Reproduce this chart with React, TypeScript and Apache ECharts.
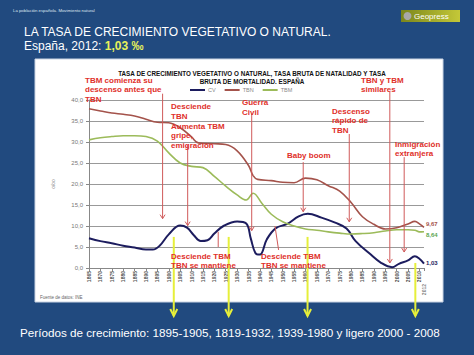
import React, { useEffect, useRef } from 'react';
import * as echarts from 'echarts';

// Tasa bruta de natalidad (TBN)
const tbnYears = [1865, 1870, 1875, 1880, 1885, 1890, 1895, 1900, 1905, 1910, 1913, 1920, 1925, 1930, 1935, 1937, 1939, 1945, 1950, 1955, 1960, 1965, 1970, 1975, 1980, 1985, 1990, 1995, 2000, 2005, 2008, 2010, 2012];
const tbnValues = [37.9, 37.4, 36.9, 36.6, 36.2, 35.4, 34.7, 34.6, 33.4, 31.2, 29.8, 29.6, 29.4, 27.9, 24.4, 22.0, 21.1, 20.8, 20.4, 20.3, 21.4, 21.0, 19.6, 18.3, 15.6, 12.2, 10.4, 9.3, 9.6, 10.5, 11.1, 10.5, 9.67];

// Tasa bruta de mortalidad (TBM)
const tbmYears = [1865, 1870, 1875, 1880, 1885, 1890, 1895, 1900, 1905, 1910, 1915, 1920, 1925, 1930, 1934, 1937, 1941, 1945, 1950, 1955, 1960, 1965, 1970, 1975, 1980, 1985, 1990, 1995, 2000, 2005, 2008, 2010, 2012];
const tbmValues = [30.5, 31.0, 31.3, 31.5, 31.5, 31.3, 30.2, 27.4, 25.0, 24.2, 23.9, 21.8, 19.5, 17.4, 16.2, 17.8, 15.3, 12.8, 11.0, 10.0, 9.3, 9.0, 8.6, 8.3, 8.1, 8.2, 8.4, 8.8, 9.1, 9.1, 9.0, 8.6, 8.64];

// Crecimiento vegetativo (CV)
const cvYears = [1865, 1870, 1875, 1880, 1885, 1890, 1893, 1896, 1900, 1905, 1908, 1911, 1914, 1917, 1920, 1924, 1930, 1934, 1936, 1938, 1940, 1943, 1947, 1952, 1957, 1961, 1967, 1973, 1978, 1982, 1988, 1993, 1998, 2001, 2005, 2008, 2010, 2012];
const cvValues = [7.1, 6.4, 5.9, 5.3, 4.9, 4.4, 4.4, 5.3, 8.0, 10.1, 9.6, 7.8, 6.4, 6.6, 8.2, 10.0, 11.1, 10.6, 7.0, 3.6, 3.2, 6.8, 9.5, 10.5, 12.3, 12.9, 12.0, 10.8, 9.4, 6.4, 3.5, 1.3, 0.2, 1.0, 1.8, 2.8, 2.2, 1.03];

const endLabels = ['1,03', '9,67', '8,64'];

// Annotations: red arrows [year, topValue, tipValue, chevron]
const redArrows: [number, number, number, boolean][] = [
  [1897.3, 41.5, 11.75, true],
  [1908.3, 29.3, 10.1, true],
  [1936.4, 36.7, 8.9, true],
  [1959.0, 25.2, 13.4, true],
  [1979.2, 31.9, 11.0, true],
  [1997.0, 42.0, 1.2, true],
  [2003.3, 26.4, 3.8, true],
];
// yellow growth-period markers [year, topValue]
const yellowMarks: [number, number][] = [
  [1902.2, 7.4],
  [1926.3, 7.4],
  [1960.9, 7.4],
  [2008.2, 1.2],
];

const FONT = 'Liberation Sans, Arial, sans-serif';
const RED_TXT = '#e0302a';
const RED_LN = '#d05a5a';
const YEL = '#e6ef3a';

function toPts(ys: number[], vs: number[]) {
  return ys.map((y, i) => [y, vs[i]]);
}

export default function App() {
  const ref = useRef<HTMLDivElement>(null);
  useEffect(() => {
    document.body.style.margin = '0';
    const chart = echarts.init(ref.current!, null, { renderer: 'svg' });
    const option: any = {
      animation: false,
      backgroundColor: '#214a7f',
      textStyle: { fontFamily: FONT },
      grid: { left: 89, right: 50, top: 100, bottom: 87 },
      legend: {
        left: 190,
        top: 87,
        itemWidth: 15,
        itemHeight: 2,
        itemGap: 9,
        icon: 'rect',
        padding: 0,
        textStyle: { fontSize: 5.5, color: '#888', padding: [0, 0, 0, -2] },
        data: ['CV', 'TBN', 'TBM'],
      },
      xAxis: {
        type: 'value',
        min: 1865,
        max: 2012,
        interval: 5,
        splitLine: { show: false },
        axisLine: { lineStyle: { color: '#888' } },
        axisTick: { show: true, length: 3, lineStyle: { color: '#888' } },
        axisLabel: {
          rotate: 90,
          fontSize: 5,
          color: '#555',
          margin: 3,
          fontWeight: 'bold',
          formatter: (v: number) => (v === 2012 ? '{b|2012}' : String(v)),
          rich: { b: { fontSize: 5, color: '#888', padding: [0, 13, 0, 0] } },
        },
      },
      yAxis: {
        type: 'value',
        min: 0,
        max: 40,
        interval: 5,
        name: 'o/oo',
        nameLocation: 'middle',
        nameGap: 34,
        nameTextStyle: { fontSize: 5, color: '#888' },
        axisLine: { show: true, lineStyle: { color: '#888' } },
        axisTick: { show: true, length: 3, lineStyle: { color: '#888' } },
        splitLine: { lineStyle: { color: '#999', width: 1 } },
        axisLabel: {
          fontSize: 6,
          color: '#777',
          margin: 6,
          formatter: (v: number) => v.toFixed(1).replace('.', ','),
        },
      },
      series: [
        {
          name: 'CV', type: 'line', data: toPts(cvYears, cvValues), smooth: 0.4, symbol: 'none',
          lineStyle: { color: '#1c1c5e', width: 2 }, itemStyle: { color: '#1c1c5e' },
          endLabel: { show: true, formatter: endLabels[0], color: '#1c1c5e', fontSize: 6, fontWeight: 'bold', distance: 2, offset: [0, -1] },
        },
        {
          name: 'TBN', type: 'line', data: toPts(tbnYears, tbnValues), smooth: 0.4, symbol: 'none',
          lineStyle: { color: '#a4534b', width: 1.6 }, itemStyle: { color: '#a4534b' },
          endLabel: { show: true, formatter: endLabels[1], color: '#a4534b', fontSize: 6, fontWeight: 'bold', distance: 2, offset: [0, -3] },
        },
        {
          name: 'TBM', type: 'line', data: toPts(tbmYears, tbmValues), smooth: 0.4, symbol: 'none',
          lineStyle: { color: '#9cbb5a', width: 1.6 }, itemStyle: { color: '#9cbb5a' },
          endLabel: { show: true, formatter: endLabels[2], color: '#5aa550', fontSize: 6, fontWeight: 'bold', distance: 2, offset: [0, 3] },
        },
      ],
    };
    chart.setOption(option);

    const p = (x: number, y: number) => chart.convertToPixel({ gridIndex: 0 }, [x, y]) as number[];
    const g: any[] = [];
    // panel
    g.push({ type: 'rect', z: -10, shape: { x: 35, y: 59, width: 408, height: 243 }, style: { fill: '#ffffff', stroke: '#c9d3e3', lineWidth: 1 } });
    // top small text
    g.push({ type: 'text', x: 13, y: 10, z: 50, style: { text: 'La población española. Movimiento natural', fill: '#dfe6f0', fontSize: 4.3, fontFamily: FONT, textVerticalAlign: 'middle' } });
    // geopress logo
    g.push({ type: 'rect', z: 50, shape: { x: 401, y: 10, width: 59, height: 12 }, style: { fill: new echarts.graphic.LinearGradient(0, 0, 1, 0, [{ offset: 0, color: '#7b861c' }, { offset: 1, color: '#c4c838' }]) } });
    g.push({ type: 'circle', z: 51, shape: { cx: 407.5, cy: 16, r: 4 }, style: { fill: '#a8a8a8' } });
    g.push({ type: 'text', x: 414, y: 16, z: 51, style: { text: 'Geopress', fill: '#ffffff', fontSize: 8, fontFamily: FONT, textVerticalAlign: 'middle' } });
    // titles
    g.push({ type: 'text', x: 24, y: 31.5, z: 50, style: { text: 'LA TASA DE CRECIMIENTO VEGETATIVO O NATURAL.', fill: '#ffffff', fontSize: 12, fontFamily: FONT, textVerticalAlign: 'middle' } });
    g.push({ type: 'text', x: 24, y: 46, z: 50, style: { text: '{a|España, 2012: }{b|1,03 ‰}', fontFamily: FONT, textVerticalAlign: 'middle', rich: { a: { fill: '#ffffff', color: '#ffffff', fontSize: 12, fontFamily: FONT }, b: { color: '#e8f25a', fill: '#e8f25a', fontSize: 12, fontWeight: 'bold', fontFamily: FONT } } } });
    g.push({ type: 'text', x: 20, y: 332.5, z: 50, style: { text: 'Períodos de crecimiento: 1895-1905, 1819-1932, 1939-1980 y ligero 2000 - 2008', fill: '#ffffff', fontSize: 11.7, fontFamily: FONT, textVerticalAlign: 'middle' } });
    // chart title
    g.push({ type: 'text', x: 252, y: 70, z: 50, style: { text: 'TASA DE CRECIMIENTO VEGETATIVO O NATURAL, TASA BRUTA DE NATALIDAD Y TASA\nBRUTA DE MORTALIDAD. ESPAÑA', fill: '#111', fontSize: 6.3, fontWeight: 'bold', fontFamily: FONT, textAlign: 'center', textVerticalAlign: 'top', lineHeight: 7.5 } });
    g.push({ type: 'text', x: 40, y: 297, z: 50, style: { text: 'Fuente de datos: INE', fill: '#666', fontSize: 4.5, fontFamily: FONT, textVerticalAlign: 'middle' } });

    // yellow markers
    yellowMarks.forEach(([yr, top]) => {
      const a = p(yr, top);
      const bottom = 316;
      g.push({ type: 'line', z: 60, shape: { x1: a[0], y1: a[1], x2: a[0], y2: bottom }, style: { stroke: YEL, lineWidth: 2 } });
      g.push({ type: 'polyline', z: 60, shape: { points: [[a[0] - 3.5, bottom - 7], [a[0], bottom], [a[0] + 3.5, bottom - 7]] }, style: { stroke: YEL, lineWidth: 2, fill: null } });
    });
    // red arrows
    redArrows.forEach(([yr, top, tip, chev]) => {
      const a = p(yr, top);
      const b = p(yr, tip);
      g.push({ type: 'line', z: 55, shape: { x1: a[0], y1: a[1], x2: b[0], y2: b[1] }, style: { stroke: RED_LN, lineWidth: 1 } });
      if (chev) g.push({ type: 'polyline', z: 55, shape: { points: [[b[0] - 2.5, b[1] - 4], [b[0], b[1]], [b[0] + 2.5, b[1] - 4]] }, style: { stroke: RED_LN, lineWidth: 1, fill: null } });
    });
    {
      const a = p(1921.7, 8.6), b = p(1921.7, 5.0);
      g.push({ type: 'line', z: 55, shape: { x1: a[0], y1: a[1], x2: b[0], y2: b[1] }, style: { stroke: RED_LN, lineWidth: 1 } });
      const c = p(1946.6, 10.0), d = p(1948.2, 4.3);
      g.push({ type: 'line', z: 55, shape: { x1: c[0], y1: c[1], x2: d[0], y2: d[1] }, style: { stroke: RED_LN, lineWidth: 1 } });
    }
    // red annotation texts
    const notes: [number, number, string][] = [
      [85, 75.5, 'TBM comienza su\ndescenso antes que\nTBN'],
      [171, 102, 'Desciende\nTBN\nAumenta TBM\ngripe,\nemigración'],
      [242, 98, 'Guerra\nCivil'],
      [332, 106.5, 'Descenso\nrápido de\nTBN'],
      [361, 75.5, 'TBN y TBM\nsimilares'],
      [287, 150.5, 'Baby boom'],
      [395, 139.5, 'Inmigración\nextranjera'],
      [171, 251.5, 'Desciende TBM\nTBN se mantiene'],
      [261, 251.5, 'Desciende TBM\nTBN se mantiene'],
    ];
    notes.forEach(([x, y, t]) => {
      g.push({ type: 'text', x, y, z: 70, style: { text: t, fill: RED_TXT, fontSize: 8, fontWeight: 'bold', fontFamily: FONT, textVerticalAlign: 'top', lineHeight: 9.6 } });
    });

    chart.setOption({ graphic: g });
    return () => chart.dispose();
  }, []);
  return <div ref={ref} style={{ position: 'absolute', left: 0, top: 0, width: 474, height: 355 }} />;
}
